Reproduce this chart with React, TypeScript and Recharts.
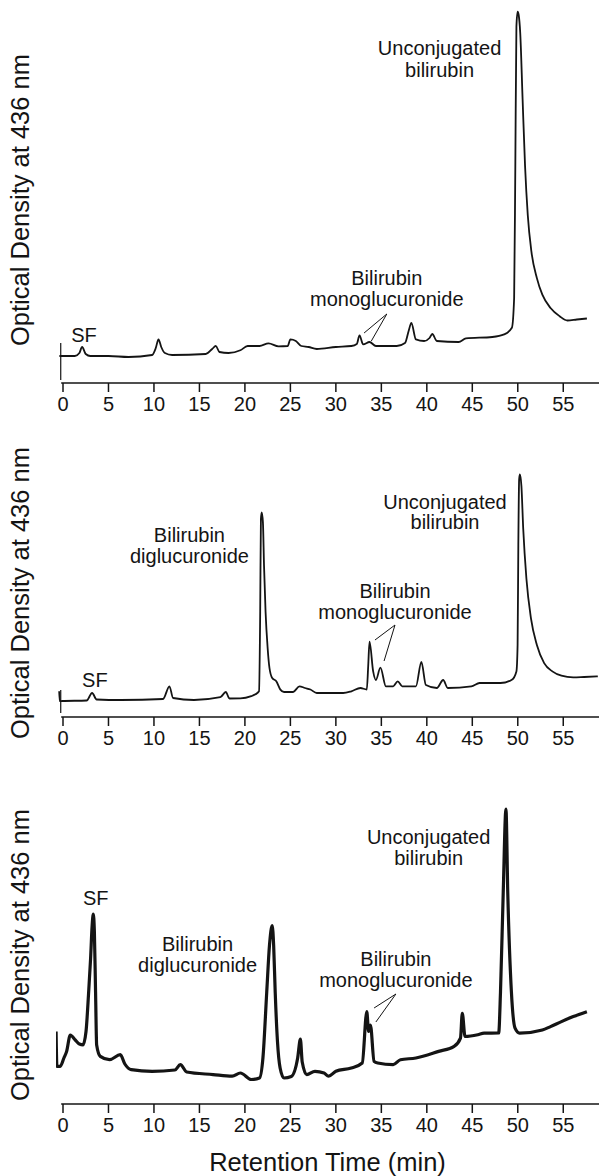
import React from 'react';
import { LineChart, Line, XAxis, YAxis, ReferenceLine, ReferenceDot } from 'recharts';

// [retention time (min), optical density (arbitrary units)]
const traceTop: [number, number][] = [
  [-0.4, 27], [1.3, 27], [1.8, 30], [2.1, 36], [2.5, 29], [3.0, 27], [5.0, 27], [7.2, 26],
  [9.8, 28], [10.2, 35], [10.5, 43.6], [10.8, 36], [11.2, 30], [12.0, 28], [15.7, 29], [16.4, 34],
  [16.8, 37], [17.2, 31], [18.2, 30], [19.5, 32.7], [20.3, 37], [21.6, 37], [22.6, 39.6], [23.7, 36.6],
  [24.7, 37], [25.0, 43.6], [25.6, 42], [26.2, 37], [27.0, 36], [27.9, 34], [30.0, 36], [31.7, 37],
  [32.3, 39], [32.6, 47.6], [33.0, 38.6], [33.7, 41], [34.4, 37], [36.7, 37], [37.6, 40], [38.0, 52],
  [38.3, 60], [38.8, 43.6], [39.7, 42], [40.3, 45], [40.6, 49], [41.1, 42], [43.5, 41], [44.3, 44.6],
  [47.2, 46], [48.5, 48.6], [49.35, 55.2], [49.6, 85], [49.73, 217], [49.85, 356.5], [49.98, 371.4],
  [50.1, 368], [50.27, 350], [50.53, 283.7], [50.8, 217], [51.1, 167.8], [51.5, 131.3], [52.1, 104.9],
  [52.7, 88.3], [53.6, 75], [54.6, 66.8], [55.45, 62.5], [56.5, 63.5], [57.6, 64.5],
];

const traceMiddle: [number, number][] = [
  [-0.42, 25.7], [-0.35, 15.8], [-0.1, 16], [2.6, 16.5], [3.2, 24], [3.7, 17.5], [6.4, 17], [11.0, 18],
  [11.7, 30.7], [12.1, 19], [14.4, 17], [17.3, 19.8], [17.9, 25], [18.3, 18.5], [19.5, 18.6], [20.7, 20.8],
  [21.1, 22.4], [21.55, 25.7], [21.68, 105], [21.76, 198], [21.85, 204.5], [21.98, 194.6], [22.1, 151.6],
  [22.27, 105.2], [22.5, 68.8], [22.7, 49], [23.0, 39], [23.45, 35.7], [23.9, 27.4], [24.3, 25], [25.3, 25],
  [26.0, 30.7], [26.6, 29], [27.2, 27.5], [27.9, 24], [29.1, 24], [30.8, 24], [31.7, 25.7], [32.7, 29],
  [33.4, 27.5], [33.55, 50], [33.7, 75.4], [34.1, 45.6], [34.4, 37], [34.9, 49.3], [35.5, 30.7], [36.3, 30.7],
  [36.8, 35.7], [37.3, 30.7], [38.8, 30.7], [39.4, 55], [39.9, 32], [41.1, 29], [41.8, 37], [42.3, 29],
  [44.9, 30.7], [45.8, 34], [48.1, 34], [49.35, 37.3], [49.85, 45.6], [49.98, 72], [50.06, 171.4],
  [50.15, 237.7], [50.23, 242.6], [50.4, 231], [50.6, 188], [50.95, 138.3], [51.45, 98.6], [52.1, 72],
  [52.9, 53.9], [53.8, 45.6], [54.8, 41.3], [56.1, 39.6], [57.3, 40], [58.8, 40.6],
];

const traceBottom: [number, number][] = [
  [-0.76, 72.5], [-0.67, 37.7], [-0.3, 37.7], [0.1, 46], [0.4, 52.6], [0.8, 69], [1.35, 64], [1.8, 60],
  [2.2, 59.2], [2.53, 72.5], [2.82, 112], [3.03, 145], [3.2, 178], [3.33, 190], [3.45, 172], [3.58, 112],
  [3.7, 59], [4.1, 47.6], [5.1, 44.3], [6.3, 49.3], [6.8, 40], [7.5, 34.4], [9.8, 32.7], [12.3, 34],
  [12.9, 39.4], [13.6, 32], [16.5, 29.4], [18.6, 27.8], [19.5, 31], [20.7, 24.5], [21.6, 26], [21.98, 46],
  [22.4, 112], [22.7, 158.6], [23.0, 178.4], [23.16, 158.6], [23.33, 112], [23.58, 62.5], [23.87, 36],
  [24.3, 26], [25.1, 27.5], [25.8, 46], [26.1, 64.9], [26.3, 42], [26.8, 29.4], [27.7, 32.7], [28.7, 31],
  [29.2, 27.8], [30.0, 32.7], [31.7, 36], [32.9, 41], [33.4, 92.3], [33.6, 72.5], [33.8, 79], [34.2, 42.7],
  [34.6, 41], [36.3, 39.4], [37.1, 44.3], [38.8, 46], [41.3, 52.6], [43.0, 57.6], [43.7, 65.9], [43.9, 90.7],
  [44.2, 67.5], [45.6, 69.2], [46.3, 70.8], [47.9, 71], [48.1, 112], [48.4, 211.5], [48.7, 295], [48.9, 211],
  [49.3, 112], [49.7, 75.8], [50.2, 70.8], [52.7, 74], [53.6, 77.4], [54.8, 82.4], [56.1, 87.4], [57.6, 92.3],
];

const timeTicks = [0, 5, 10, 15, 20, 25, 30, 35, 40, 45, 50, 55];

const yTitle = 'Optical Density at 436 nm';
const xTitle = 'Retention Time (min)';

const INK = '#141414';
const X_DOMAIN: [number, number] = [-0.77, 58.93];

type Note = { text: string; x: number; y: number };
type Leader = [number, number, number, number];

// annotation placement, in data units
const notesTop: Note[] = [
  { text: 'SF', x: 2.3, y: 48 },
  { text: 'Bilirubin', x: 35.6, y: 105 },
  { text: 'monoglucuronide', x: 35.6, y: 84 },
  { text: 'Unconjugated', x: 41.4, y: 335 },
  { text: 'bilirubin', x: 41.4, y: 313 },
];
const leadersTop: Leader[] = [
  [35.6, 69, 33.1, 50],
  [35.6, 69, 33.9, 42],
];

const notesMiddle: Note[] = [
  { text: 'SF', x: 3.5, y: 37 },
  { text: 'Bilirubin', x: 13.9, y: 182 },
  { text: 'diglucuronide', x: 13.9, y: 161 },
  { text: 'Bilirubin', x: 36.5, y: 126 },
  { text: 'monoglucuronide', x: 36.5, y: 105 },
  { text: 'Unconjugated', x: 42.0, y: 215 },
  { text: 'bilirubin', x: 42.0, y: 195 },
];
const leadersMiddle: Leader[] = [
  [36.5, 92, 34.3, 77],
  [36.5, 92, 35.3, 56],
];

const notesBottom: Note[] = [
  { text: 'SF', x: 3.6, y: 206 },
  { text: 'Bilirubin', x: 14.8, y: 160 },
  { text: 'diglucuronide', x: 14.8, y: 139 },
  { text: 'Bilirubin', x: 36.6, y: 145 },
  { text: 'monoglucuronide', x: 36.6, y: 124 },
  { text: 'Unconjugated', x: 40.2, y: 267 },
  { text: 'bilirubin', x: 40.2, y: 246 },
];
const leadersBottom: Leader[] = [
  [36.6, 110, 34.2, 96],
  [36.6, 110, 34.4, 82],
];

interface PanelProps {
  trace: [number, number][];
  yMax: number;
  height: number;
  top: number;
  strokeWidth: number;
  notes: Note[];
  leaders: Leader[];
  stub?: [number, number];
  withTitle?: boolean;
}

const Panel: React.FC<PanelProps> = ({ trace, yMax, height, top, strokeWidth, notes, leaders, stub, withTitle }) => {
  const data = trace.map(([t, od]) => ({ t, od }));
  return (
    <div style={{ position: 'absolute', left: 0, top }}>
      <LineChart width={599} height={height} data={data} margin={{ top: 0, right: 0, bottom: 0, left: 56 }}>
        <XAxis
          type="number"
          dataKey="t"
          domain={X_DOMAIN}
          ticks={timeTicks}
          interval={0}
          allowDataOverflow
          axisLine={false}
          tickLine={{ stroke: INK, strokeWidth: 1.5 }}
          tickSize={9}
          tickMargin={5}
          tick={{ fill: INK, fontSize: 20 }}
          height={withTitle ? 72 : 40}
          label={withTitle ? { value: xTitle, position: 'insideBottom', offset: 5, fill: INK, fontSize: 25.5 } : undefined}
        />
        <YAxis hide domain={[0, yMax]} allowDataOverflow />
        <ReferenceLine
          segment={[{ x: -0.2, y: 0 }, { x: X_DOMAIN[1], y: 0 }]}
          stroke={INK}
          strokeWidth={1.5}
          ifOverflow="visible"
        />
        {stub && (
          <ReferenceLine
            segment={[{ x: -0.25, y: stub[0] }, { x: -0.25, y: stub[1] }]}
            stroke={INK}
            strokeWidth={1.2}
            ifOverflow="visible"
          />
        )}
        {leaders.map((l, i) => (
          <ReferenceLine
            key={`ld${i}`}
            segment={[{ x: l[0], y: l[1] }, { x: l[2], y: l[3] }]}
            stroke={INK}
            strokeWidth={1}
          />
        ))}
        {notes.map((n, i) => (
          <ReferenceDot
            key={`nt${i}`}
            x={n.x}
            y={n.y}
            r={1}
            fill="none"
            stroke="none"
            label={{ value: n.text, position: 'center', fill: INK, fontSize: 20 }}
          />
        ))}
        <Line
          dataKey="od"
          type="monotone"
          dot={false}
          stroke={INK}
          strokeWidth={strokeWidth}
          strokeLinejoin="round"
          isAnimationActive={false}
        />
      </LineChart>
    </div>
  );
};

const YTitle: React.FC<{ cy: number }> = ({ cy }) => (
  <div
    style={{
      position: 'absolute',
      left: 20,
      top: cy,
      transform: 'translate(-50%, -50%) rotate(-90deg)',
      whiteSpace: 'nowrap',
      fontSize: 25.5,
      color: INK,
    }}
  >
    {yTitle}
  </div>
);

export default function App() {
  return (
    <div
      style={{
        position: 'absolute',
        left: 0,
        top: 0,
        width: 599,
        height: 1176,
        background: '#fff',
        fontFamily: '"Liberation Sans", Arial, sans-serif',
        overflow: 'hidden',
      }}
    >
      <Panel trace={traceTop} yMax={383} height={423} top={0} strokeWidth={1.8} notes={notesTop} leaders={leadersTop} stub={[3, 40]} />
      <Panel trace={traceMiddle} yMax={294} height={334} top={423} strokeWidth={1.8} notes={notesMiddle} leaders={leadersMiddle} stub={[4, 27]} />
      <Panel trace={traceBottom} yMax={341} height={413} top={763} strokeWidth={3.2} notes={notesBottom} leaders={leadersBottom} withTitle />
      <YTitle cy={200} />
      <YTitle cy={593} />
      <YTitle cy={955} />
    </div>
  );
}
